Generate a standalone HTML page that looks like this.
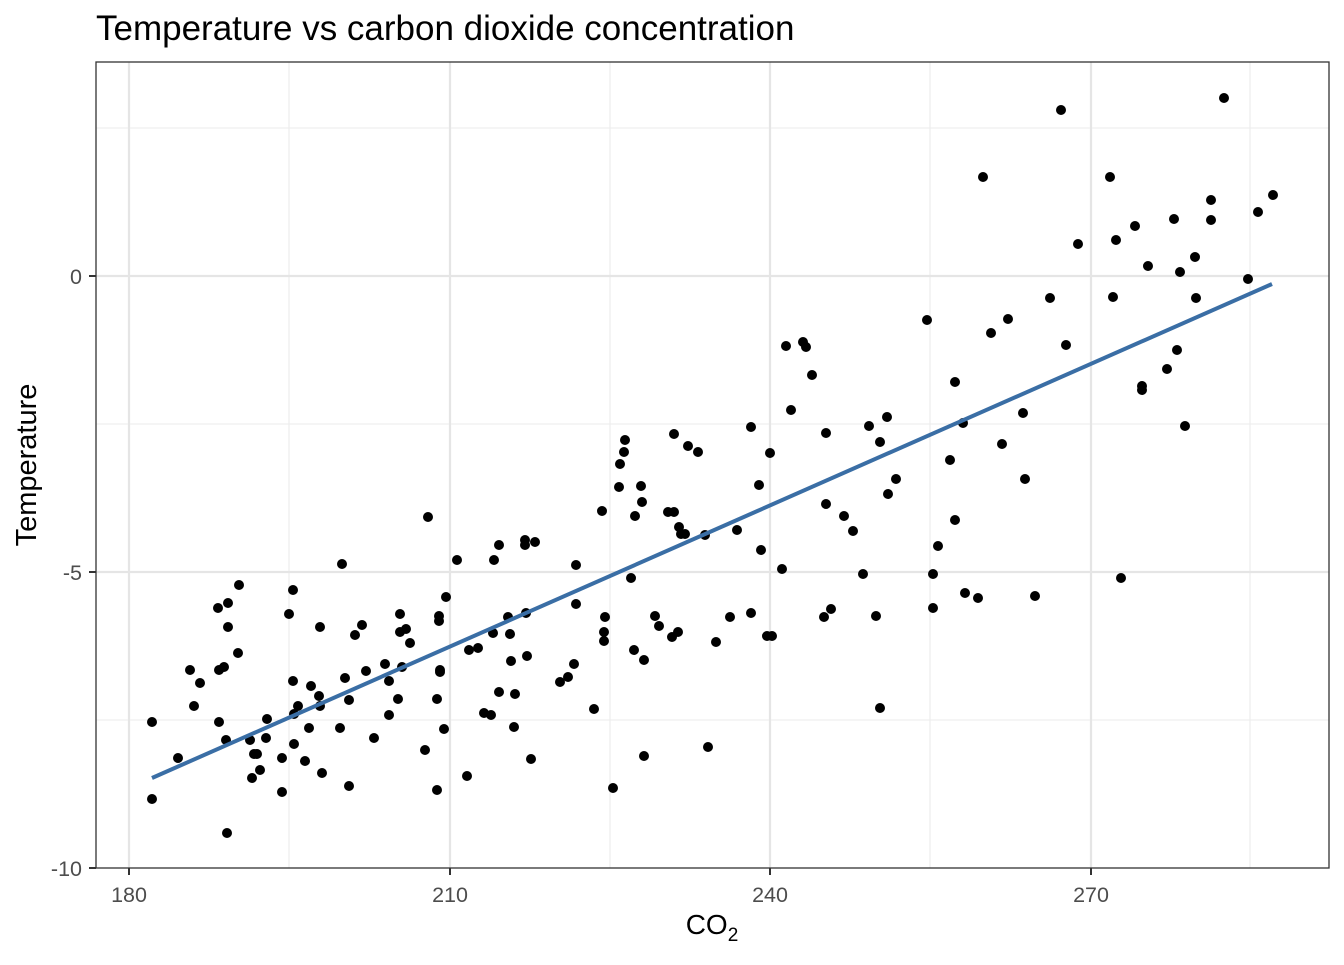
<!DOCTYPE html>
<html><head><meta charset="utf-8"><style>body{margin:0;background:#fff}</style></head><body>
<svg width="1344" height="960" xmlns="http://www.w3.org/2000/svg" font-family="Liberation Sans, Arial, sans-serif">
<rect width="1344" height="960" fill="#fff"/>
<g stroke="#ebebeb" stroke-width="1.1">
<line x1="96" x2="1329" y1="128" y2="128"/><line x1="96" x2="1329" y1="424" y2="424"/><line x1="96" x2="1329" y1="720" y2="720"/>
<line y1="62" y2="868" x1="289" x2="289"/><line y1="62" y2="868" x1="610" x2="610"/><line y1="62" y2="868" x1="930" x2="930"/><line y1="62" y2="868" x1="1250" x2="1250"/>
</g>
<g stroke="#e5e5e5" stroke-width="2.2">
<line x1="96" x2="1329" y1="276" y2="276"/><line x1="96" x2="1329" y1="572" y2="572"/>
<line y1="62" y2="868" x1="129" x2="129"/><line y1="62" y2="868" x1="450" x2="450"/><line y1="62" y2="868" x1="770" x2="770"/><line y1="62" y2="868" x1="1091" x2="1091"/>
</g>
<g fill="#000" id="pts"></g>
<line x1="152" y1="778" x2="1272" y2="284" stroke="#3a6ea5" stroke-width="4"/>
<rect x="96" y="62" width="1233" height="806" fill="none" stroke="#333" stroke-width="1.3"/>
<g stroke="#333" stroke-width="2">
<line x1="89" x2="96" y1="276" y2="276"/><line x1="89" x2="96" y1="572" y2="572"/><line x1="89" x2="96" y1="868" y2="868"/>
<line y1="868" y2="875" x1="129" x2="129"/><line y1="868" y2="875" x1="450" x2="450"/><line y1="868" y2="875" x1="770" x2="770"/><line y1="868" y2="875" x1="1091" x2="1091"/>
</g>
<g font-size="21.5" fill="#4d4d4d" text-anchor="end">
<text x="82" y="284">0</text><text x="82" y="580">-5</text><text x="82" y="876">-10</text>
</g>
<g font-size="21.5" fill="#4d4d4d" text-anchor="middle">
<text x="129" y="902">180</text><text x="450" y="902">210</text><text x="770" y="902">240</text><text x="1091" y="902">270</text>
</g>
<text x="712" y="934" font-size="28" text-anchor="middle">CO<tspan font-size="19" dy="7">2</tspan></text>
<text transform="translate(36,465) rotate(-90)" font-size="29" text-anchor="middle">Temperature</text>
<text x="96" y="40" font-size="35">Temperature vs carbon dioxide concentration</text>
</svg>
<script>
const p=[[152,722],[152,799],[178,758],[190,670],[194,706],[200,683],[218,608],[219,670],[219,722],[224,667],[226,740],[227,833],[228,603],[228,627],[238,653],[239,585],[250,740],[252,778],[254,754],[257,754],[260,770],[266,738],[267,719],[282,758],[282,792],[289,614],[293,590],[293,681],[294,714],[294,744],[298,706],[305,761],[309,728],[311,686],[319,696],[320,627],[320,706],[322,773],[340,728],[342,564],[345,678],[349,700],[349,786],[355,635],[362,625],[366,671],[374,738],[385,664],[389,681],[389,715],[398,699],[400,614],[400,632],[402,667],[406,629],[410,643],[425,750],[428,517],[437,790],[437,699],[439,616],[439,621],[440,670],[440,672],[444,729],[446,597],[457,560],[467,776],[469,650],[478,648],[484,713],[491,715],[493,633],[494,560],[499,545],[499,692],[508,617],[510,634],[511,661],[514,727],[515,694],[525,540],[525,545],[526,613],[527,656],[531,759],[535,542],[560,682],[568,677],[574,664],[576,604],[576,565],[594,709],[602,511],[604,632],[604,641],[605,617],[613,788],[619,487],[620,464],[624,452],[625,440],[631,578],[634,650],[635,516],[641,486],[642,502],[644,660],[644,756],[655,616],[659,626],[668,512],[672,637],[674,512],[674,434],[678,632],[679,527],[681,534],[685,534],[688,446],[698,452],[705,535],[708,747],[716,642],[730,617],[737,530],[751,613],[751,427],[759,485],[761,550],[767,636],[772,636],[770,453],[782,569],[786,346],[791,410],[803,342],[806,347],[812,375],[824,617],[826,433],[826,504],[831,609],[844,516],[853,531],[863,574],[869,426],[876,616],[880,442],[880,708],[887,417],[888,494],[896,479],[927,320],[933,574],[933,608],[938,546],[950,460],[955,382],[955,520],[963,423],[965,593],[978,598],[983,177],[991,333],[1002,444],[1008,319],[1023,413],[1025,479],[1035,596],[1050,298],[1061,110],[1066,345],[1078,244],[1110,177],[1113,297],[1116,240],[1121,578],[1135,226],[1142,386],[1142,390],[1148,266],[1167,369],[1174,219],[1177,350],[1180,272],[1185,426],[1195,257],[1196,298],[1211,200],[1211,220],[1224,98],[1248,279],[1258,212],[1273,195]];
const g=document.getElementById('pts');let s='';
for(const [x,y] of p)s+=`<circle cx="${x}" cy="${y}" r="5"/>`;
g.innerHTML=s;
</script>
</body></html>
